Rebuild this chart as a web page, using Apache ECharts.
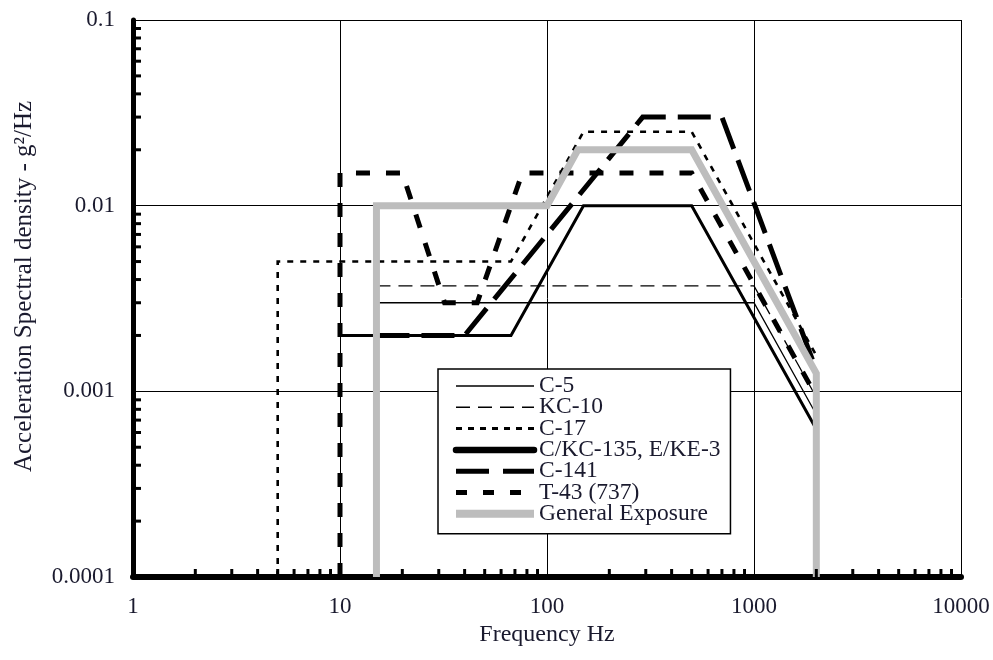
<!DOCTYPE html>
<html>
<head>
<meta charset="utf-8">
<script src="https://cdn.jsdelivr.net/npm/echarts@6/dist/echarts.min.js"></script>
<style>
html,body{margin:0;padding:0;background:#fff;}
#chart{width:993px;height:660px;}
</style>
</head>
<body>
<div id="chart"></div>
<script>
// ---- data (frequency Hz, PSD g^2/Hz) ----
const xTickLabels = ['1', '10', '100', '1000', '10000'];
const yTickLabels = ['0.0001', '0.001', '0.01', '0.1'];
const minorMultipliers = [2, 3, 4, 5, 6, 7, 8, 9];

const seriesNames = ['C-5', 'KC-10', 'C-17', 'C/KC-135, E/KE-3', 'C-141', 'T-43 (737)', 'General Exposure'];

const c5 = [[15, 0.003], [1000, 0.003], [2000, 0.00075]];
const kc10 = [[15, 0.0037], [1000, 0.0037], [2000, 0.00093]];
const c17 = [[5, 0.0001], [5, 0.005], [67, 0.005], [150, 0.025], [500, 0.025], [2000, 0.00156]];
const c135 = [[10, 0.002], [67, 0.002], [150, 0.01], [500, 0.01], [2000, 0.000625]];
const c141 = [[15, 0.002], [40, 0.002], [290, 0.03], [700, 0.03], [2000, 0.0013]];
const t43 = [[10, 0.0001], [10, 0.015], [20, 0.015], [32, 0.003], [46, 0.003], [76, 0.015], [500, 0.015], [2000, 0.00094]];
const general = [[15, 0.0001], [15, 0.01], [100, 0.01], [141, 0.02], [500, 0.02], [2000, 0.00125], [2000, 0.0001]];

const FONT = 'Liberation Serif';
const TXT = '#1a1a2e';
const GRAY = '#bdbdbd';

const chart = echarts.init(document.getElementById('chart'), null, {renderer: 'canvas'});

function mk(name, data, width, dash, color) {
  return {
    name: name, type: 'line', data: data, symbol: 'none', animation: false,
    lineStyle: {color: color || '#000', width: width, type: dash || 'solid', cap: 'butt', join: 'miter'},
    itemStyle: {color: color || '#000'},
    emphasis: {disabled: true}
  };
}

function labelFrom(arr, minExp) {
  return function (v) {
    const i = Math.round(Math.log10(v)) - minExp;
    return arr[i] !== undefined ? arr[i] : '';
  };
}

const legendWidths = [1.5, 1.5, 3, 6.5, 5, 5, 8];
const legendDashes = ['solid', [14, 8], [6, 6], 'solid', [33, 14], [11, 16], 'solid'];

const option = {
  backgroundColor: '#fff',
  animation: false,
  grid: {left: 133, right: 32, top: 20, bottom: 83, containLabel: false},
  legend: {
    orient: 'vertical', left: 438, top: 369,
    data: seriesNames.map(function (n, i) {
      return {name: n, lineStyle: {width: legendWidths[i], type: legendDashes[i], cap: i === 3 ? 'round' : 'butt'}};
    }),
    itemWidth: 78, itemHeight: 14, itemGap: -2.7,
    padding: [5, 10, 8, 14],
    backgroundColor: '#fff', borderColor: '#000', borderWidth: 1.5,
    itemStyle: {color: 'rgba(0,0,0,0)', borderWidth: 0, opacity: 0},
    textStyle: {fontFamily: FONT, fontSize: 23.5, color: TXT, lineHeight: 21.4},
    selectedMode: false
  },
  xAxis: {
    type: 'log', logBase: 10, min: 1, max: 10000,
    name: 'Frequency Hz', nameLocation: 'middle', nameGap: 36,
    nameTextStyle: {fontFamily: FONT, fontSize: 24, color: TXT},
    axisLine: {show: true, onZero: false, lineStyle: {color: '#000', width: 6}},
    axisTick: {show: false},
    axisLabel: {fontFamily: FONT, fontSize: 23, color: TXT, margin: 18, formatter: labelFrom(xTickLabels, 0)},
    splitLine: {show: true, lineStyle: {color: '#000', width: 1}},
    minorTick: {show: false}
  },
  yAxis: {
    type: 'log', logBase: 10, min: 0.0001, max: 0.1,
    name: 'Acceleration Spectral density - g²/Hz', nameLocation: 'middle', nameGap: 96, nameRotate: 90,
    nameTextStyle: {fontFamily: FONT, fontSize: 25, color: TXT, padding: [0, 0, 0, 24]},
    axisLine: {show: true, onZero: false, lineStyle: {color: '#000', width: 5}},
    axisTick: {show: false},
    axisLabel: {fontFamily: FONT, fontSize: 23, color: TXT, margin: 18, formatter: labelFrom(yTickLabels, -4)},
    splitLine: {show: true, lineStyle: {color: '#000', width: 1}}
  },
  series: [
    mk(seriesNames[0], c5, 1.3, 'solid'),
    mk(seriesNames[1], kc10, 1.3, [14, 8]),
    mk(seriesNames[2], c17, 2.6, [6, 7]),
    mk(seriesNames[3], c135, 3, 'solid'),
    mk(seriesNames[4], c141, 5, [33, 12]),
    mk(seriesNames[5], t43, 5, [14, 16]),
    mk(seriesNames[6], general, 7, 'solid', GRAY)
  ]
};

chart.setOption(option);

// minor ticks along the left and bottom axes, positioned by the chart's own scales
function addMinorTicks() {
  const els = [];
  const xDecades = [1, 10, 100, 1000];
  const yDecades = [0.0001, 0.001, 0.01];
  const origin = chart.convertToPixel({gridIndex: 0}, [1, 0.0001]);
  const x0 = origin[0], y0 = origin[1];
  xDecades.forEach(function (d) {
    minorMultipliers.forEach(function (m) {
      const px = chart.convertToPixel({gridIndex: 0}, [d * m, 0.0001])[0];
      els.push({type: 'rect', shape: {x: px - 1.5, y: y0 - 8, width: 3, height: 8}, style: {fill: '#000'}, silent: true, z: 10});
    });
  });
  yDecades.forEach(function (d) {
    minorMultipliers.forEach(function (m) {
      const py = chart.convertToPixel({gridIndex: 0}, [1, d * m])[1];
      els.push({type: 'rect', shape: {x: x0, y: py - 1.5, width: 8, height: 3}, style: {fill: '#000'}, silent: true, z: 10});
    });
  });
  chart.setOption({graphic: els});
}
addMinorTicks();
</script>
</body>
</html>
